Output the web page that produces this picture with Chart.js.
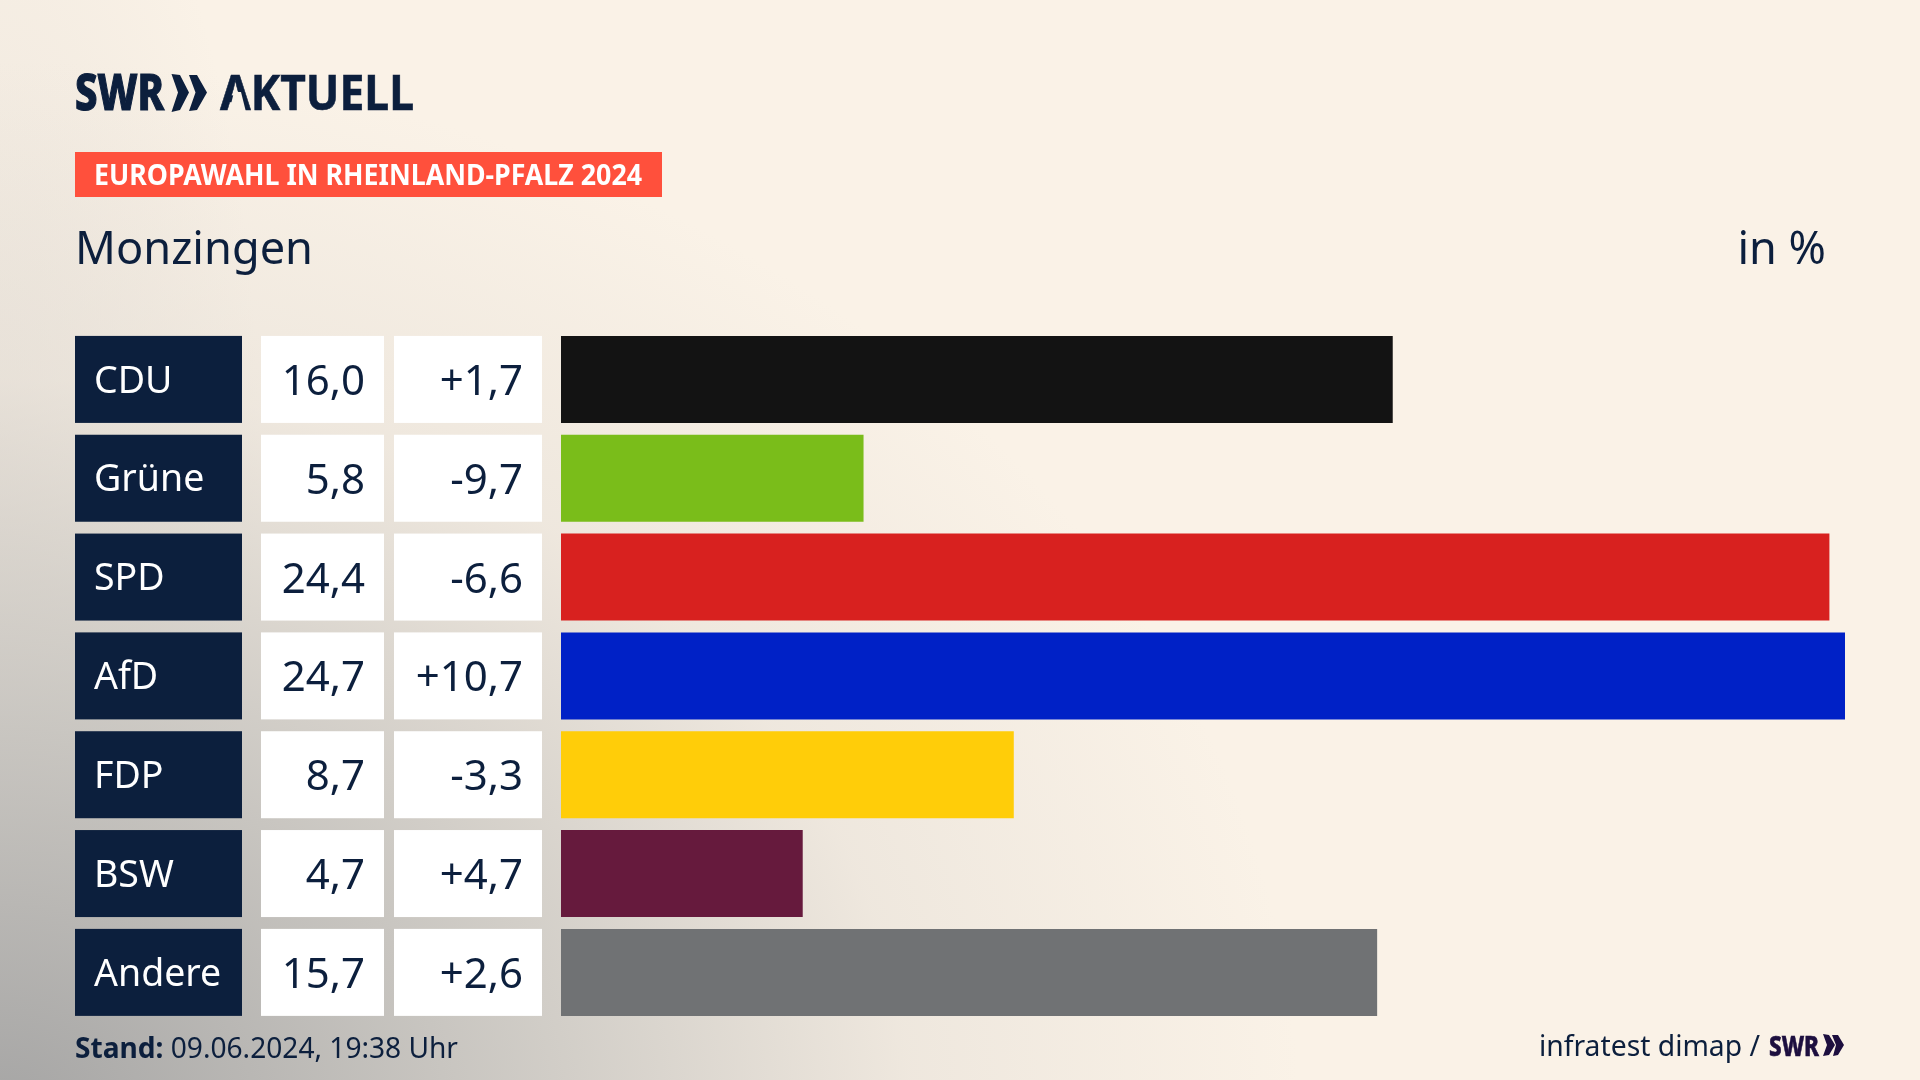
<!DOCTYPE html>
<html lang="de">
<head>
<meta charset="utf-8">
<title>Europawahl Monzingen</title>
<script src="https://cdn.jsdelivr.net/npm/chart.js@4"></script>
<style>
html,body{margin:0;padding:0;width:1920px;height:1080px;overflow:hidden}
body{background-color:#faf2e7;
background-image:radial-gradient(ellipse 1300px 1060px at 0 1120px,rgba(160,160,160,.95) 0%,rgba(192,190,186,.76) 40%,rgba(225,219,211,.46) 70%,rgba(250,242,231,0) 100%),
radial-gradient(ellipse 260px 700px at 0 450px,rgba(205,200,195,.3) 0%,rgba(250,242,231,0) 100%);}
#c{position:absolute;left:0;top:0}
#t{position:absolute;left:0;top:0}
text{font-family:"Noto Sans",sans-serif;fill:#0c1f3d}
</style>
</head>
<body>
<canvas id="c" width="1920" height="1080"></canvas>
<svg id="t" width="1920" height="1080" viewBox="0 0 1920 1080">
  <defs>
    <mask id="noBar" maskUnits="userSpaceOnUse" x="0" y="0" width="1920" height="200">
      <rect x="0" y="0" width="1920" height="200" fill="#fff"/>
      <polygon points="229,112 246,112 241,92 234,92" fill="#000"/>
    </mask>
  </defs>
  <text x="75" y="110" font-size="49" font-weight="800" textLength="89" lengthAdjust="spacingAndGlyphs" stroke="#0c1f3d" stroke-width="1.2">SWR</text>
  <polygon points="171.5,74 180,75 189,92.5 180,110 171.5,112 178,92.5" fill="#0c1f3d"/>
  <polygon points="189,75 197,75 207,92.5 197,110 189,111 195.5,92.5" fill="#0c1f3d"/>
  <text x="220" y="110" font-size="49" font-weight="700" textLength="194" lengthAdjust="spacingAndGlyphs" mask="url(#noBar)" stroke="#0c1f3d" stroke-width="0.6">AKTUELL</text>
  <rect x="75" y="152" width="587" height="45" fill="#ff503c"/>
  <text x="94" y="185" font-size="28" font-weight="700" textLength="548" lengthAdjust="spacingAndGlyphs" style="fill:#fff">EUROPAWAHL IN RHEINLAND-PFALZ 2024</text>
  <text x="75" y="264" font-size="45" textLength="238" lengthAdjust="spacingAndGlyphs">Monzingen</text>
  <text x="1826" y="264" font-size="45" text-anchor="end">in %</text>
  <text x="75" y="1058" font-size="29" textLength="383" lengthAdjust="spacingAndGlyphs"><tspan font-weight="700">Stand:</tspan> 09.06.2024, 19:38 Uhr</text>
  <text x="1539" y="1056" font-size="29" textLength="221" lengthAdjust="spacingAndGlyphs">infratest dimap /</text>
  <text x="1769" y="1056" font-size="29" font-weight="800" textLength="50" lengthAdjust="spacingAndGlyphs" style="fill:#1d0f3f" stroke="#1d0f3f" stroke-width="0.6">SWR</text>
  <polygon points="1823,1034 1829,1035 1835,1045 1829,1055 1823,1056 1827,1045" fill="#1d0f3f"/>
  <polygon points="1832,1035 1838,1035 1844,1045 1838,1055 1833,1056 1836,1045" fill="#1d0f3f"/>
</svg>
<script>
const parties = ['CDU','Grüne','SPD','AfD','FDP','BSW','Andere'];
const shares = [16.0,5.82,24.4,24.7,8.71,4.65,15.7];
const changes = [1.7,-9.7,-6.6,10.7,-3.3,4.7,2.6];
const barColors = ['#131313','#7abd1a','#d8211f','#0021c6','#ffcd09','#661a3d','#707274'];

const fmt = v => v.toFixed(1).replace('.',',');
const fmtChange = v => (v>0?'+':'-') + fmt(Math.abs(v));
const NAVY='#0c1f3d';
const ROW=87;

const tableCells = {
  id:'tableCells',
  beforeDraw(chart){
    const {ctx,scales:{y}}=chart;
    if(!y._labelsShifted){
      y.getLabelItems(chart.chartArea).forEach(item=>{item.options.translation[1]+=2.5;});
      y._labelsShifted=true;
    }
    ctx.save();
    parties.forEach((p,i)=>{
      const top=y.getPixelForValue(i)-ROW/2;
      ctx.fillStyle=NAVY; ctx.fillRect(75,top,167,ROW);
      ctx.fillStyle='#fff';
      ctx.fillRect(261,top,123,ROW);
      ctx.fillRect(394,top,148,ROW);
    });
    ctx.restore();
  },
  afterDatasetsDraw(chart){
    const {ctx,scales:{y}}=chart;
    ctx.save();
    ctx.font='400 42px "Noto Sans", sans-serif';
    ctx.fillStyle=NAVY;
    ctx.textAlign='right';
    ctx.textBaseline='alphabetic';
    parties.forEach((p,i)=>{
      const base=y.getPixelForValue(i)+15.5;
      ctx.fillText(fmt(shares[i]),365,base);
      ctx.fillText(fmtChange(changes[i]),523,base);
    });
    ctx.restore();
  }
};

new Chart(document.getElementById('c'),{
  type:'bar',
  data:{labels:parties,datasets:[{data:shares,backgroundColor:barColors,borderWidth:0,barPercentage:87/98.83,categoryPercentage:1}]},
  options:{
    indexAxis:'y',responsive:false,animation:false,devicePixelRatio:1,
    layout:{padding:{left:94,right:75,top:330,bottom:58.2}},
    plugins:{legend:{display:false},tooltip:{enabled:false},title:{display:false}},
    scales:{
      x:{display:false,min:0,max:24.7},
      y:{
        afterFit(s){s.width=467;},
        grid:{display:false},border:{display:false},
        ticks:{crossAlign:'far',autoSkip:false,color:'#fff',font:{family:'"Noto Sans", sans-serif',size:37.5,weight:'400'}}
      }
    }
  },
  plugins:[tableCells]
});
</script>
</body>
</html>
